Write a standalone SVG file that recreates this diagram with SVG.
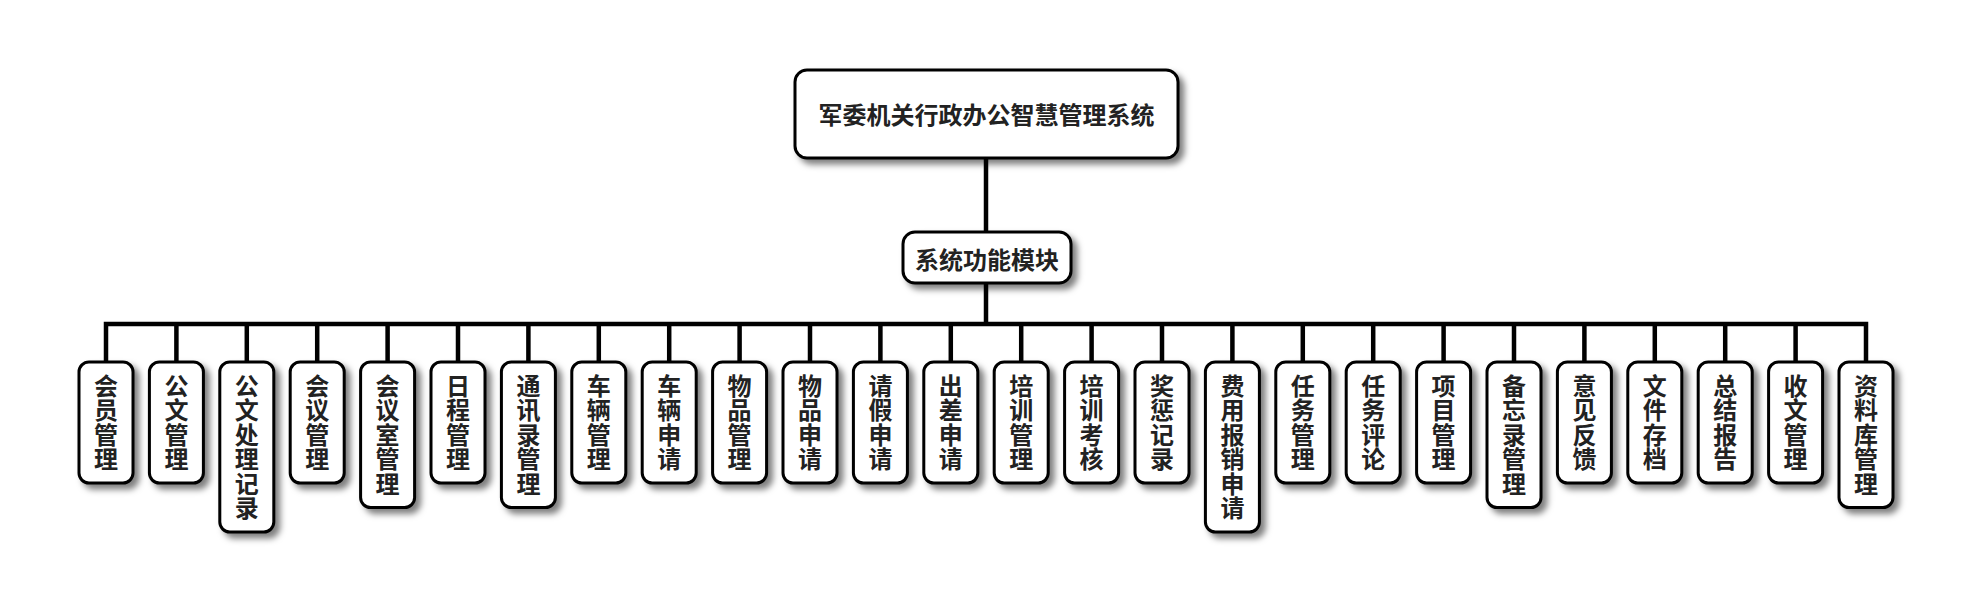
<svg xmlns="http://www.w3.org/2000/svg" width="1972" height="607" viewBox="0 0 1972 607">
<defs>
<filter id="sh" x="-30%" y="-30%" width="170%" height="170%">
<feDropShadow dx="5" dy="5" stdDeviation="3" flood-color="#000" flood-opacity="0.5"/>
</filter>
<style>
.box{fill:#fff;stroke:#000;stroke-width:3;filter:url(#sh)}
.t{font-family:"Noto Sans CJK SC","Noto Sans",sans-serif;font-weight:bold;font-size:24px;fill:#222;text-anchor:middle;dominant-baseline:central}
.v{font-family:"Noto Sans CJK SC","Noto Sans",sans-serif;font-weight:bold;font-size:24px;fill:#222;text-anchor:middle;writing-mode:vertical-rl;text-orientation:upright;letter-spacing:0.5px}
.c{stroke:#000;stroke-width:4.5;fill:none}
</style>
</defs>
<rect width="1972" height="607" fill="#fff"/>
<g id="connectors">
<line class="c" x1="986" y1="158" x2="986" y2="232"/>
<line class="c" x1="986" y1="283" x2="986" y2="324"/>
<polyline class="c" points="106,362 106,324 1866,324 1866,362"/>
<path class="c" d="M176.4,324V362M246.8,324V362M317.2,324V362M387.6,324V362M458,324V362M528.4,324V362M598.8,324V362M669.2,324V362M739.6,324V362M810,324V362M880.4,324V362M950.8,324V362M1021.2,324V362M1091.6,324V362M1162,324V362M1232.4,324V362M1302.8,324V362M1373.2,324V362M1443.6,324V362M1514,324V362M1584.4,324V362M1654.8,324V362M1725.2,324V362M1795.6,324V362"/>
</g>
<g id="root">
<rect class="box" x="795" y="70" width="383" height="88" rx="12"/>
<text class="t" x="986.5" y="113">军委机关行政办公智慧管理系统</text>
</g>
<g id="module">
<rect class="box" x="903" y="232" width="168" height="51" rx="12"/>
<text class="t" x="987" y="258">系统功能模块</text>
</g>
<g id="n1"><rect class="box" x="79" y="362" width="54" height="121" rx="10"/><text class="v" x="106" y="422.5">会员管理</text></g>
<g id="n2"><rect class="box" x="149.4" y="362" width="54" height="121" rx="10"/><text class="v" x="176.4" y="422.5">公文管理</text></g>
<g id="n3"><rect class="box" x="219.8" y="362" width="54" height="170" rx="10"/><text class="v" x="246.8" y="447">公文处理记录</text></g>
<g id="n4"><rect class="box" x="290.2" y="362" width="54" height="121" rx="10"/><text class="v" x="317.2" y="422.5">会议管理</text></g>
<g id="n5"><rect class="box" x="360.6" y="362" width="54" height="145.5" rx="10"/><text class="v" x="387.6" y="434.75">会议室管理</text></g>
<g id="n6"><rect class="box" x="431" y="362" width="54" height="121" rx="10"/><text class="v" x="458" y="422.5">日程管理</text></g>
<g id="n7"><rect class="box" x="501.4" y="362" width="54" height="145.5" rx="10"/><text class="v" x="528.4" y="434.75">通讯录管理</text></g>
<g id="n8"><rect class="box" x="571.8" y="362" width="54" height="121" rx="10"/><text class="v" x="598.8" y="422.5">车辆管理</text></g>
<g id="n9"><rect class="box" x="642.2" y="362" width="54" height="121" rx="10"/><text class="v" x="669.2" y="422.5">车辆申请</text></g>
<g id="n10"><rect class="box" x="712.6" y="362" width="54" height="121" rx="10"/><text class="v" x="739.6" y="422.5">物品管理</text></g>
<g id="n11"><rect class="box" x="783" y="362" width="54" height="121" rx="10"/><text class="v" x="810" y="422.5">物品申请</text></g>
<g id="n12"><rect class="box" x="853.4" y="362" width="54" height="121" rx="10"/><text class="v" x="880.4" y="422.5">请假申请</text></g>
<g id="n13"><rect class="box" x="923.8" y="362" width="54" height="121" rx="10"/><text class="v" x="950.8" y="422.5">出差申请</text></g>
<g id="n14"><rect class="box" x="994.2" y="362" width="54" height="121" rx="10"/><text class="v" x="1021.2" y="422.5">培训管理</text></g>
<g id="n15"><rect class="box" x="1064.6" y="362" width="54" height="121" rx="10"/><text class="v" x="1091.6" y="422.5">培训考核</text></g>
<g id="n16"><rect class="box" x="1135" y="362" width="54" height="121" rx="10"/><text class="v" x="1162" y="422.5">奖惩记录</text></g>
<g id="n17"><rect class="box" x="1205.4" y="362" width="54" height="170" rx="10"/><text class="v" x="1232.4" y="447">费用报销申请</text></g>
<g id="n18"><rect class="box" x="1275.8" y="362" width="54" height="121" rx="10"/><text class="v" x="1302.8" y="422.5">任务管理</text></g>
<g id="n19"><rect class="box" x="1346.2" y="362" width="54" height="121" rx="10"/><text class="v" x="1373.2" y="422.5">任务评论</text></g>
<g id="n20"><rect class="box" x="1416.6" y="362" width="54" height="121" rx="10"/><text class="v" x="1443.6" y="422.5">项目管理</text></g>
<g id="n21"><rect class="box" x="1487" y="362" width="54" height="145.5" rx="10"/><text class="v" x="1514" y="434.75">备忘录管理</text></g>
<g id="n22"><rect class="box" x="1557.4" y="362" width="54" height="121" rx="10"/><text class="v" x="1584.4" y="422.5">意见反馈</text></g>
<g id="n23"><rect class="box" x="1627.8" y="362" width="54" height="121" rx="10"/><text class="v" x="1654.8" y="422.5">文件存档</text></g>
<g id="n24"><rect class="box" x="1698.2" y="362" width="54" height="121" rx="10"/><text class="v" x="1725.2" y="422.5">总结报告</text></g>
<g id="n25"><rect class="box" x="1768.6" y="362" width="54" height="121" rx="10"/><text class="v" x="1795.6" y="422.5">收文管理</text></g>
<g id="n26"><rect class="box" x="1839" y="362" width="54" height="145.5" rx="10"/><text class="v" x="1866" y="434.75">资料库管理</text></g>
</svg>
